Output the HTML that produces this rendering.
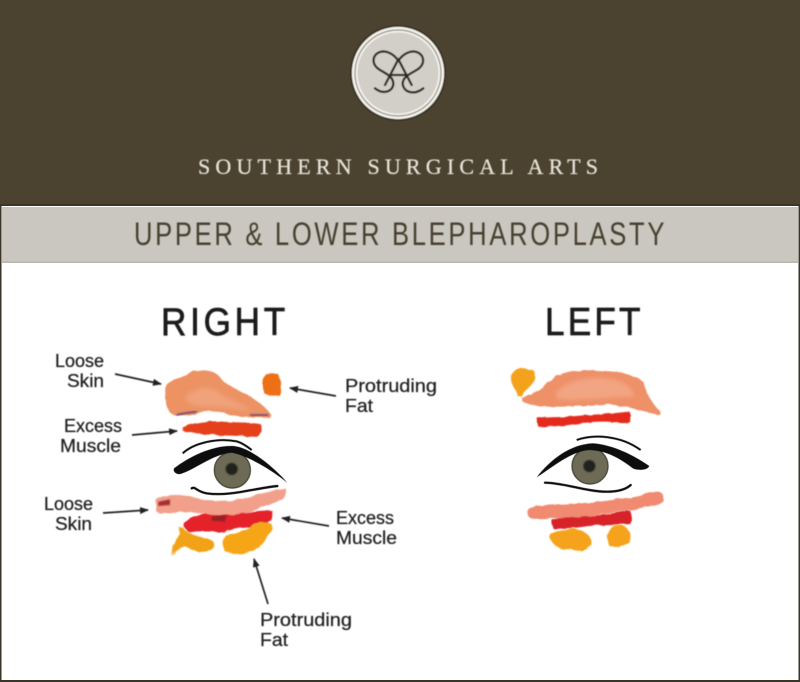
<!DOCTYPE html>
<html><head><meta charset="utf-8"><style>
html,body{margin:0;padding:0;background:#fff}
svg{display:block}
text{font-family:"Liberation Sans",sans-serif}
.l{font-size:18px;fill:#222;stroke:#222;stroke-width:.25px}
.h{font-size:39px;fill:#1a1a1a;stroke:#1a1a1a;stroke-width:.7px}
</style></head><body>
<svg xmlns="http://www.w3.org/2000/svg" width="800" height="682" viewBox="0 0 800 682">
<defs>
<filter id="r" x="-15%" y="-15%" width="130%" height="130%">
<feMorphology in="SourceGraphic" operator="dilate" radius="4" result="m"/>
<feTurbulence type="fractalNoise" baseFrequency=".035" numOctaves="2" seed="4" result="n"/>
<feDisplacementMap in="m" in2="n" scale="10" result="d"/>
<feGaussianBlur in="d" stdDeviation="1.4"/>
</filter>
<filter id="b" x="-30%" y="-30%" width="160%" height="160%"><feGaussianBlur stdDeviation="2.2"/></filter>
<filter id="s" x="-30%" y="-30%" width="160%" height="160%"><feGaussianBlur stdDeviation="7"/></filter>
<filter id="t" x="-10%" y="-10%" width="120%" height="120%"><feGaussianBlur stdDeviation=".45"/></filter>
<marker id="a" markerWidth="9" markerHeight="7" refX="8" refY="3.5" orient="auto" markerUnits="userSpaceOnUse"><path d="M0 0L9 3.5L0 7Z" fill="#222"/></marker>
</defs>
<rect width="800" height="682" fill="#fff"/>
<rect width="800" height="205" fill="#4b4230"/>
<rect x="0.5" y="205" width="799" height="476" fill="none" stroke="#3a3526" stroke-width="2"/>
<rect x="2" y="207" width="796" height="56" fill="#c9c7c0"/>
<rect x="2" y="261.5" width="796" height="1.5" fill="#b9b7ae"/>

<g filter="url(#t)">
<circle cx="398" cy="73" r="47.5" fill="#2a2518"/>
<circle cx="398" cy="73" r="46.2" fill="#f4f2ec"/>
<circle cx="398" cy="73" r="43" fill="none" stroke="#8d897a" stroke-width="1.2"/>
<circle cx="398" cy="73" r="40.5" fill="#d1cfc8"/>
<g transform="translate(330,10) scale(.33333)" fill="none" stroke="#2f2a1d" stroke-width="7" stroke-linecap="round">
<path d="M205 152C190 130 165 118 145 128C125 140 125 165 150 180C170 192 190 200 190 222C188 245 160 255 135 235"/>
<path d="M205 152C220 130 245 118 265 128C285 140 285 165 260 180C240 192 218 200 218 222C222 250 255 255 280 235"/>
<path d="M205 148L165 225M205 148L245 225M185 195H225"/>
</g>
</g>

<g filter="url(#t)">
<text x="198" y="174" font-size="22" textLength="400" lengthAdjust="spacing" style="font-family:'Liberation Serif',serif" fill="#e6e2d6" stroke="#e6e2d6" stroke-width=".25">SOUTHERN SURGICAL ARTS</text>
<g transform="translate(134,245) scale(.8,1)"><text x="0" y="0" font-size="32" textLength="663" lengthAdjust="spacing" fill="#46402f">UPPER &amp; LOWER BLEPHAROPLASTY</text></g>
<g transform="translate(161,335) scale(.9,1)"><text class="h" x="0" y="0" textLength="138" lengthAdjust="spacing">RIGHT</text></g>
<g transform="translate(545,335) scale(.9,1)"><text class="h" x="0" y="0" textLength="106" lengthAdjust="spacing">LEFT</text></g>

<text class="l" x="55" y="367" textLength="49" lengthAdjust="spacingAndGlyphs">Loose</text>
<text class="l" x="67" y="387" textLength="37" lengthAdjust="spacingAndGlyphs">Skin</text>
<text class="l" x="64" y="432" textLength="58" lengthAdjust="spacingAndGlyphs">Excess</text>
<text class="l" x="60" y="452" textLength="61" lengthAdjust="spacingAndGlyphs">Muscle</text>
<text class="l" x="44" y="510" textLength="49" lengthAdjust="spacingAndGlyphs">Loose</text>
<text class="l" x="55" y="530" textLength="37" lengthAdjust="spacingAndGlyphs">Skin</text>
<text class="l" x="345" y="392" textLength="92" lengthAdjust="spacingAndGlyphs">Protruding</text>
<text class="l" x="345" y="412" textLength="28" lengthAdjust="spacingAndGlyphs">Fat</text>
<text class="l" x="336" y="524" textLength="58" lengthAdjust="spacingAndGlyphs">Excess</text>
<text class="l" x="336" y="544" textLength="61" lengthAdjust="spacingAndGlyphs">Muscle</text>
<text class="l" x="260" y="626" textLength="92" lengthAdjust="spacingAndGlyphs">Protruding</text>
<text class="l" x="260" y="646" textLength="28" lengthAdjust="spacingAndGlyphs">Fat</text>
<g stroke="#222" stroke-width="1.7" fill="none">
<path d="M115 374L161 384" marker-end="url(#a)"/>
<path d="M132 435L177 431" marker-end="url(#a)"/>
<path d="M103 513L148 510" marker-end="url(#a)"/>
<path d="M336 396L290 388" marker-end="url(#a)"/>
<path d="M329 526L282 518" marker-end="url(#a)"/>
<path d="M268 604L254 559" marker-end="url(#a)"/>
</g>
</g>

<!-- RIGHT eye -->
<g transform="translate(140,360) scale(.33333)">
<g filter="url(#r)">
<path d="M82 78C100 58 130 62 150 45C175 32 215 35 232 52C250 80 275 85 300 100C335 118 370 140 388 168C350 170 300 165 265 158C240 148 200 142 170 155C140 165 105 168 92 150C80 125 78 100 82 78Z" fill="#ec9264"/>
<path d="M372 65C378 45 400 35 412 50C420 70 418 90 412 100C395 102 380 100 375 92Z" fill="#ee6f16"/>
<path d="M130 205C165 195 200 185 250 190C290 192 330 192 358 197C360 210 358 222 350 226C300 222 240 222 190 218C165 215 145 212 130 205Z" fill="#e43f1e"/>
<path d="M52 425C70 408 110 405 150 415C200 428 260 432 320 418C360 408 400 395 435 392C436 405 420 415 395 425C350 445 310 458 260 460C200 460 140 448 95 452C75 458 55 458 52 445Z" fill="#f2a08c"/>
<path d="M135 495C150 478 190 465 230 462C290 462 350 462 392 456C395 470 385 482 365 490C320 495 280 500 245 512C210 510 170 508 150 512Z" fill="#e5202a"/>
<path d="M122 505C130 515 135 522 160 530C190 540 215 540 218 555C210 572 180 575 160 565C135 550 125 545 95 582C110 560 122 535 122 505Z" fill="#f2a218"/>
<path d="M262 528C285 520 310 530 335 500C355 490 385 488 392 500C385 530 365 545 340 565C315 578 280 582 258 568C250 550 255 538 262 528Z" fill="#f5a518"/>
</g>
<path d="M135 110C170 75 225 75 245 105C280 120 310 135 340 155C290 150 240 138 190 140C165 140 140 130 135 110Z" fill="#f4ad8a" filter="url(#s)" opacity=".6"/>
<path d="M110 165C125 160 145 158 170 155M330 165L385 165" stroke="#6c4a7c" stroke-width="5" fill="none" filter="url(#b)"/>
<path d="M170 168C180 152 205 150 215 157C212 170 190 182 170 177Z" fill="#fff" filter="url(#b)"/>
<path d="M55 425L90 418L90 435L55 438Z" fill="#a82f36" filter="url(#b)"/>
<path d="M215 470L260 465L255 485L215 482Z" fill="#962028" filter="url(#b)"/>
<g filter="url(#t)">
<circle cx="277" cy="330" r="54" fill="#6d6a55" stroke="#4a4738" stroke-width="4"/>
<circle cx="275" cy="327" r="18" fill="#22221f" filter="url(#b)"/>
<path d="M102 325C150 288 220 255 280 258C330 262 400 320 442 368C395 330 320 285 275 278C225 280 170 325 122 342C108 344 98 335 102 325Z" fill="#111"/>
<path d="M128 280C160 250 230 232 290 244C310 250 325 262 335 270" fill="none" stroke="#111" stroke-width="6"/>
<path d="M155 385C165 378 170 395 200 400C270 410 340 385 412 378" fill="none" stroke="#111" stroke-width="7" stroke-linecap="round"/>
</g>
</g>

<!-- LEFT eye -->
<g transform="translate(500,360) scale(.33333)">
<g filter="url(#r)">
<path d="M36 55C45 30 70 22 80 35C95 30 105 40 100 55C90 75 70 85 58 105C55 90 40 75 36 55Z" fill="#f4a21c"/>
<path d="M70 118C95 110 125 100 145 75C175 45 230 32 290 36C340 38 400 45 425 70C435 100 445 130 478 160C440 150 390 135 330 128C270 130 200 138 140 135C110 132 85 130 70 118Z" fill="#ee9068"/>
<path d="M112 176C160 178 210 175 260 170C300 168 345 165 385 160C388 172 386 182 380 187C340 178 290 178 240 185C200 192 160 195 120 196Z" fill="#e42a1c"/>
<path d="M88 450C110 435 180 442 240 435C320 428 400 420 470 398C488 405 490 418 475 428C420 445 350 448 280 462C220 470 160 470 105 472C90 470 85 460 88 450Z" fill="#f08a70"/>
<path d="M160 485C200 470 250 475 300 470C330 465 360 462 385 456C392 470 392 480 385 488C340 488 290 490 250 495C220 500 185 500 165 502Z" fill="#d8202c"/>
<path d="M155 530C170 512 195 520 215 510C240 512 265 525 270 548C262 565 235 575 215 560C190 570 165 555 155 530Z" fill="#f5a31a"/>
<path d="M335 505C350 495 370 498 380 515C395 530 392 545 375 550C355 552 340 562 332 552C325 535 328 518 335 505Z" fill="#f5a31a"/>
</g>
<path d="M170 95C200 60 260 50 320 55C360 60 395 75 405 110C350 110 280 120 200 120C175 120 160 110 170 95Z" fill="#f6b494" filter="url(#s)" opacity=".6"/>
<g filter="url(#t)">
<circle cx="270" cy="318" r="54" fill="#6d6a55" stroke="#4a4738" stroke-width="4"/>
<circle cx="268" cy="318" r="18" fill="#22221f" filter="url(#b)"/>
<path d="M110 352C150 300 210 252 280 250C340 255 400 285 448 318C442 330 420 332 400 326C360 295 320 272 270 270C215 272 160 320 110 352Z" fill="#111"/>
<path d="M230 240C280 222 360 225 422 270" fill="none" stroke="#111" stroke-width="6"/>
<path d="M135 368C190 368 260 395 320 395C350 395 375 390 392 375" fill="none" stroke="#111" stroke-width="7" stroke-linecap="round"/>
</g>
</g>
</svg>
</body></html>
